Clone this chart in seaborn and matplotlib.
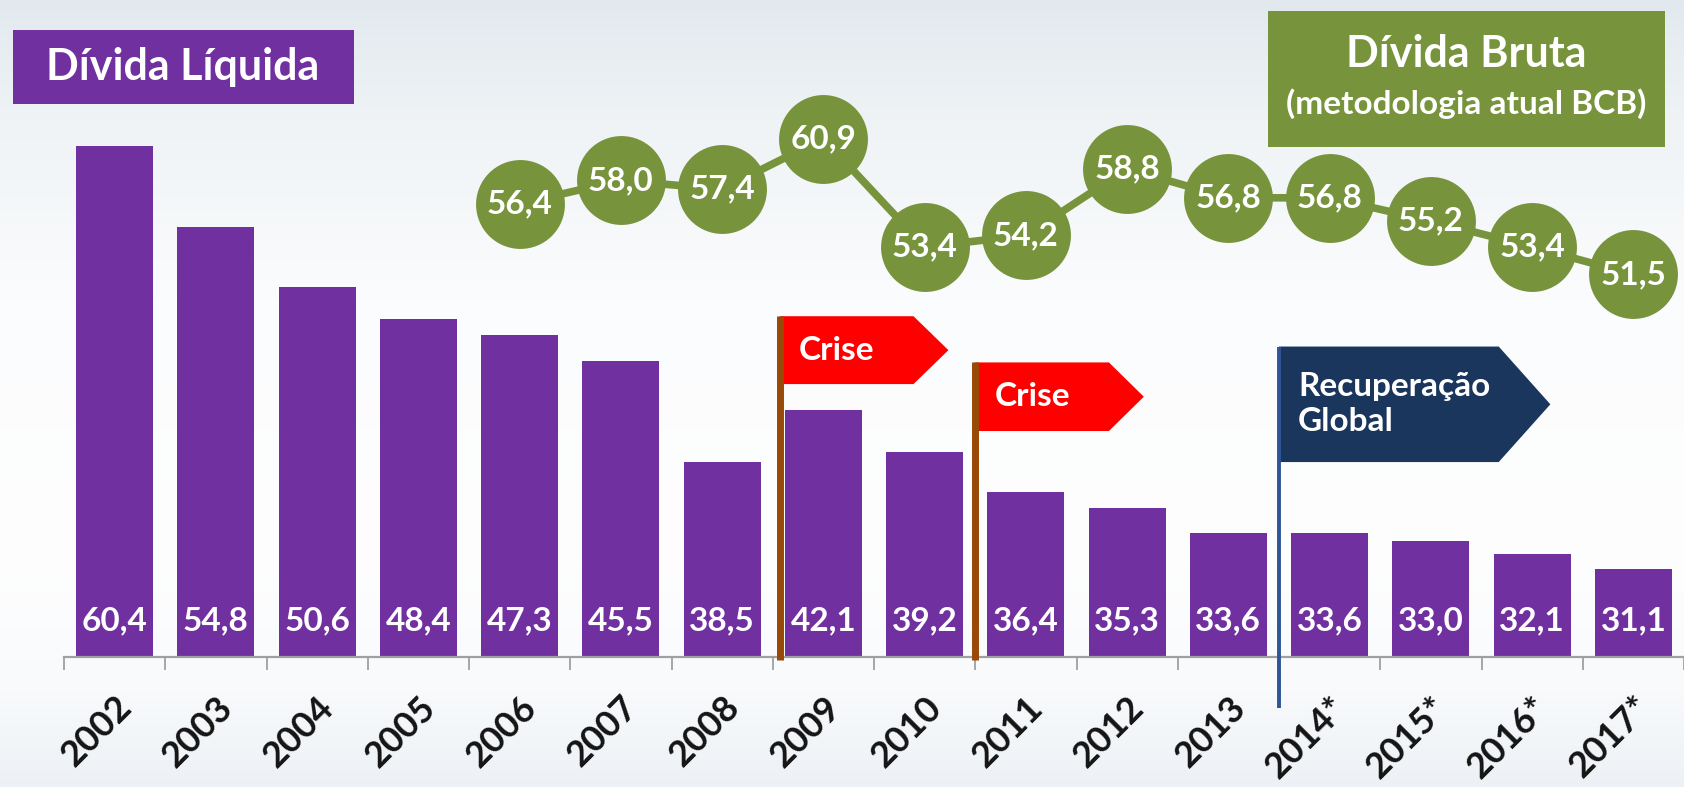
import numpy as np
import pandas as pd
import matplotlib
matplotlib.use("Agg")
import matplotlib.pyplot as plt
import seaborn as sns
from matplotlib.patches import Polygon, Rectangle

# ---------------- data ----------------
years = ["2002", "2003", "2004", "2005", "2006", "2007", "2008", "2009",
         "2010", "2011", "2012", "2013", "2014*", "2015*", "2016*", "2017*"]
divida_liquida = [60.4, 54.8, 50.6, 48.4, 47.3, 45.5, 38.5, 42.1,
                  39.2, 36.4, 35.3, 33.6, 33.6, 33.0, 32.1, 31.1]
bruta_years = ["2006", "2007", "2008", "2009", "2010", "2011",
               "2012", "2013", "2014*", "2015*", "2016*", "2017*"]
divida_bruta = [56.4, 58.0, 57.4, 60.9, 53.4, 54.2,
                58.8, 56.8, 56.8, 55.2, 53.4, 51.5]
crise_years = ["2009", "2011"]
recuperacao_year = "2014*"

title_liquida = "Dívida Líquida"
title_bruta = "Dívida Bruta"
subtitle_bruta = "(metodologia atual BCB)"

# ---------------- style ----------------
PURPLE = "#7030A0"
GREEN = "#77933C"
RED = "#FF0000"
BROWN = "#984807"
NAVY = "#1B365D"
BLUE = "#2F5597"
GRAY = "#A0A0A0"

sns.set_theme(style="white")
plt.rcParams['font.family'] = ['Lato', 'DejaVu Sans']

W, H = 1684, 787
fig = plt.figure(figsize=(W / 100, H / 100), dpi=100)

# background gradient
bg = fig.add_axes([0, 0, 1, 1], zorder=-10)
stops_y = [0, 120, 300, 560, 690, 787]
stops_c = np.array([[226, 233, 238], [239, 243, 246], [251, 252, 253],
                    [254, 254, 254], [248, 250, 252], [237, 241, 245]]) / 255.0
yy = np.arange(H)
grad = np.stack([np.interp(yy, stops_y, stops_c[:, k]) for k in range(3)], axis=1)
bg.imshow(grad[:, None, :], aspect="auto", extent=[0, 1, 0, 1])
bg.set_axis_off()

# main axes
ax_left, ax_bottom_px = 64, 657
ax = fig.add_axes([ax_left / W, (H - ax_bottom_px) / H, (W - ax_left) / W, ax_bottom_px / H])
ax.patch.set_alpha(0)

df = pd.DataFrame({"ano": years, "liquida": divida_liquida})
sns.barplot(data=df, x="ano", y="liquida", order=years, color=PURPLE,
            saturation=1, width=0.76, linewidth=0, ax=ax)

for i, v in enumerate(divida_liquida):
    ax.annotate(f"{v:.1f}".replace(".", ","), xy=(i, 25), xytext=(0, 26),
                textcoords="offset points", ha="center", va="center",
                color="white", fontsize=24, fontweight="bold", zorder=5)

xpos = [years.index(y) for y in bruta_years]
sns.lineplot(x=xpos, y=divida_bruta, color=GREEN, linewidth=5.5, marker="o",
             markersize=64, markeredgewidth=0, sort=False, estimator=None, ax=ax, zorder=4)
for x, v in zip(xpos, divida_bruta):
    ax.text(x, v, f"{v:.1f}".replace(".", ","), ha="center", va="center",
            color="white", fontsize=24, fontweight="bold", zorder=6)

# flags
def flag(xp, ytop, ybot, wstraight, wtip, pole_bot, color, pole_color, pole_w, label):
    ymid = (ytop + ybot) / 2
    poly = Polygon([(xp, ytop), (xp + wstraight, ytop), (xp + wtip, ymid),
                    (xp + wstraight, ybot), (xp, ybot)], closed=True,
                   facecolor=color, edgecolor="none", zorder=7, clip_on=False)
    ax.add_patch(poly)
    ax.plot([xp, xp], [ytop, pole_bot], color=pole_color, linewidth=pole_w,
            solid_capstyle="butt", zorder=8, clip_on=False)
    ax.text(xp + 0.19, ymid, label, ha="left", va="center", color="white",
            fontsize=24, fontweight="bold", zorder=9, linespacing=1.25)

crise_specs = [(0.07, 48.6, 43.9), (0.0, 45.4, 40.65)]
for yr, (off, yt, yb) in zip(crise_years, crise_specs):
    flag(years.index(yr) - 0.5 + off, yt, yb, 1.32, 1.665, 24.8, RED, BROWN, 5.0, "Crise")
flag(years.index(recuperacao_year) - 0.5, 46.5, 38.5, 2.17, 2.68, 21.5, NAVY, BLUE, 2.8,
     "Recuperação\nGlobal")

# axes styling
px_per_unit = 14.44
px_per_cat = 101.5
ax.set_ylim(25, 25 + ax_bottom_px / px_per_unit)
ax.set_xlim(-0.5, -0.5 + (W - ax_left) / px_per_cat)
ax.set_yticks([])
ax.set_xlabel("")
ax.set_ylabel("")
for s in ["left", "top", "right"]:
    ax.spines[s].set_visible(False)
ax.spines["bottom"].set_color(GRAY)
ax.spines["bottom"].set_linewidth(1.6)
ax.set_xticks(range(len(years)))
ax.set_xticklabels(years, rotation=45, ha="right", va="top", rotation_mode="anchor",
                   fontsize=26, fontweight="bold", color="#141414")
ax.set_xticks(np.arange(-0.5, len(years), 1.0), minor=True)
ax.tick_params(axis="x", which="major", bottom=True, length=0, pad=24)
ax.tick_params(axis="x", which="minor", bottom=True, length=9.5, width=1.3,
               color=GRAY, direction="out")

# title boxes
fig.patches.append(Rectangle((13 / W, (H - 104) / H), 341 / W, 74 / H,
                             transform=fig.transFigure, facecolor=PURPLE, edgecolor="none"))
fig.text(183 / W, (H - 67) / H, title_liquida, ha="center", va="center",
         color="white", fontsize=31, fontweight="bold")
fig.patches.append(Rectangle((1268 / W, (H - 147) / H), 397 / W, 136 / H,
                             transform=fig.transFigure, facecolor=GREEN, edgecolor="none"))
fig.text(1466 / W, (H - 54) / H, title_bruta, ha="center", va="center",
         color="white", fontsize=31, fontweight="bold")
fig.text(1466 / W, (H - 104) / H, subtitle_bruta, ha="center", va="center",
         color="white", fontsize=24, fontweight="bold")

fig.savefig("out.png", dpi=100)
